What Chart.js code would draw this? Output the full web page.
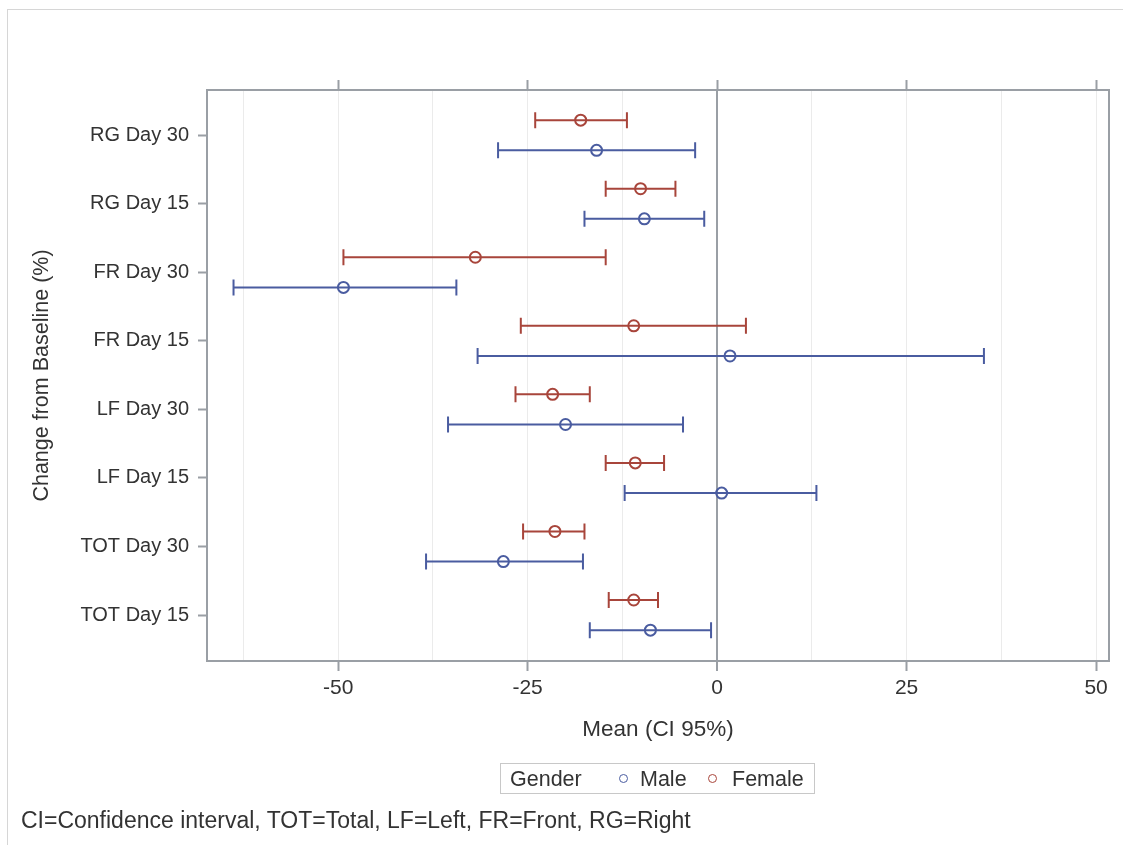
<!DOCTYPE html>
<html>
<head>
<meta charset="utf-8">
<script src="https://cdn.jsdelivr.net/npm/chart.js@4.4.1/dist/chart.umd.min.js"></script>
<style>
body { margin: 0; background: #fff; font-family: "Liberation Sans", Arial, sans-serif; color: #333; }
#wrap { position: relative; width: 1123px; height: 845px; overflow: hidden; }
#frame { position: absolute; left: 7px; top: 9px; width: 1200px; height: 900px; border: 1px solid #d6d6d6; }
#chart { position: absolute; left: 0; top: 0; }
#legend { position: absolute; left: 500px; top: 763px; width: 315px; height: 31px; border: 1px solid #c8c8c8; box-sizing: border-box; font-size: 21.5px; }
#legend span { position: absolute; top: 2px; line-height: 26px; white-space: nowrap; }
#legend i { position: absolute; top: 10px; width: 7px; height: 7px; border-radius: 50%; border: 1.5px solid; }
#note { position: absolute; left: 21px; top: 807px; font-size: 23px; line-height: 26px; white-space: nowrap; }
</style>
</head>
<body>
<div id="wrap">
  <div id="frame"></div>
  <canvas id="chart" width="1123" height="845"></canvas>
  <div id="legend">
    <span style="left:9px">Gender</span>
    <i style="left:118px;color:#4a5ca0"></i><span style="left:139px">Male</span>
    <i style="left:207px;color:#a8453b"></i><span style="left:231px">Female</span>
  </div>
  <div id="note">CI=Confidence interval, TOT=Total, LF=Left, FR=Front, RG=Right</div>
</div>
<script>
// categories listed top to bottom
const categories = ['RG Day 30', 'RG Day 15', 'FR Day 30', 'FR Day 15', 'LF Day 30', 'LF Day 15', 'TOT Day 30', 'TOT Day 15'];

const maleMean = [-15.9, -9.6, -49.3, 1.7, -20.0, 0.6, -28.2, -8.8];
const maleLow = [-28.9, -17.5, -63.8, -31.6, -35.5, -12.2, -38.4, -16.8];
const maleHigh = [-2.9, -1.7, -34.4, 35.2, -4.5, 13.1, -17.7, -0.8];

const femaleMean = [-18.0, -10.1, -31.9, -11.0, -21.7, -10.8, -21.4, -11.0];
const femaleLow = [-24.0, -14.7, -49.3, -25.9, -26.6, -14.7, -25.6, -14.3];
const femaleHigh = [-11.9, -5.5, -14.7, 3.8, -16.8, -7.0, -17.5, -7.8];

const xTicks = [-50, -25, 0, 25, 50];
const xGrid = [-62.5, -50, -37.5, -25, -12.5, 0, 12.5, 25, 37.5, 50];

const blue = '#4a5ca0';
const red = '#a8453b';
const axisGray = '#9a9fa5';
const family = '"Liberation Sans", Arial, sans-serif';

function rows(means, shift) {
    return means.map((m, i) => ({ x: m, y: i + shift }));
}

const errorBars = {
    id: 'errorBars',
    beforeDatasetsDraw(chart) {
        const ctx = chart.ctx;
        const x = chart.scales.x;
        const y = chart.scales.y;
        chart.data.datasets.forEach(ds => {
            ctx.save();
            ctx.strokeStyle = ds.borderColor;
            ctx.lineWidth = 2;
            ds.data.forEach((p, i) => {
                let yp = y.getPixelForValue(p.y);
                let x1 = x.getPixelForValue(ds.low[i]);
                let x2 = x.getPixelForValue(ds.high[i]);
                ctx.beginPath();
                ctx.moveTo(x1, yp); ctx.lineTo(x2, yp);
                ctx.moveTo(x1, yp - 8); ctx.lineTo(x1, yp + 8);
                ctx.moveTo(x2, yp - 8); ctx.lineTo(x2, yp + 8);
                ctx.stroke();
            });
            ctx.restore();
        });
    }
};

new Chart(document.getElementById('chart').getContext('2d'), {
    type: 'scatter',
    data: {
        datasets: [
            { label: 'Male', data: rows(maleMean, 0.22), low: maleLow, high: maleHigh,
              borderColor: blue, backgroundColor: 'rgba(0,0,0,0)', pointRadius: 5.5, pointHoverRadius: 5.5, borderWidth: 2 },
            { label: 'Female', data: rows(femaleMean, -0.22), low: femaleLow, high: femaleHigh,
              borderColor: red, backgroundColor: 'rgba(0,0,0,0)', pointRadius: 5.5, pointHoverRadius: 5.5, borderWidth: 2 }
        ]
    },
    options: {
        responsive: false,
        animation: false,
        events: [],
        layout: { padding: { left: 20, right: 14, top: 0, bottom: 94 } },
        plugins: { legend: { display: false }, tooltip: { enabled: false } },
        scales: {
            x: {
                type: 'linear', position: 'bottom', min: -67.3, max: 51.7,
                afterBuildTicks: s => { s.ticks = xGrid.map(v => ({ value: v })); },
                afterFit: s => { s.height = 90; },
                ticks: { font: { family: family, size: 21 }, color: '#333', padding: 5, maxRotation: 0, autoSkip: false,
                         callback: v => xTicks.includes(v) ? String(v) : '' },
                grid: {
                    color: c => (c.tick && c.tick.value === 0) ? axisGray : '#ebebeb',
                    lineWidth: c => (c.tick && c.tick.value === 0) ? 2 : 1,
                    tickColor: c => (c.tick && xTicks.includes(c.tick.value)) ? axisGray : 'rgba(0,0,0,0)',
                    tickLength: 10, tickWidth: 2
                },
                border: { display: true, color: axisGray, width: 2 },
                title: { display: true, text: 'Mean (CI 95%)', font: { family: family, size: 22.5 }, color: '#333', padding: { top: 0, bottom: 8 } }
            },
            x2: {
                type: 'linear', position: 'top', min: -67.3, max: 51.7,
                afterBuildTicks: s => { s.ticks = xTicks.map(v => ({ value: v })); },
                afterFit: s => { s.height = 90; },
                ticks: { display: false },
                grid: { drawOnChartArea: false, tickColor: axisGray, tickLength: 10, tickWidth: 2 },
                border: { display: true, color: axisGray, width: 2 }
            },
            y: {
                type: 'linear', reverse: true, min: -0.66, max: 7.67,
                afterBuildTicks: s => { s.ticks = categories.map((c, i) => ({ value: i })); },
                afterFit: s => { s.width = 187; },
                ticks: { font: { family: family, size: 20 }, color: '#333', padding: 9, autoSkip: false, callback: v => categories[v] },
                grid: { drawOnChartArea: false, tickColor: axisGray, tickLength: 9, tickWidth: 2 },
                border: { display: true, color: axisGray, width: 2 },
                title: { display: true, text: 'Change from Baseline (%)', font: { family: family, size: 21.5 }, color: '#333', padding: { top: 9, bottom: 0 } }
            },
            y2: {
                type: 'linear', position: 'right', min: 0, max: 1,
                afterFit: s => { s.width = 0; },
                ticks: { display: false },
                grid: { drawOnChartArea: false, drawTicks: false },
                border: { display: true, color: axisGray, width: 2 }
            }
        }
    },
    plugins: [errorBars]
});
</script>
</body>
</html>
